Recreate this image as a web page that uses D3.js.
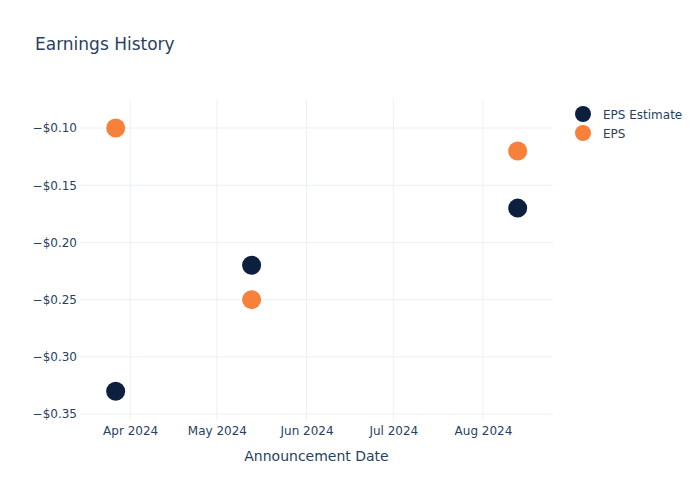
<!DOCTYPE html>
<html><head><meta charset="utf-8">
<script src="https://cdn.jsdelivr.net/npm/d3@7"></script>
<style>body{margin:0;background:#fff}svg{font-family:"DejaVu Sans",Verdana,sans-serif}</style>
</head><body><svg id="c" width="700" height="500"></svg>
<script>
const dates = ["2024-03-27","2024-05-13","2024-08-13"];
const epsEstimate = [-0.33,-0.22,-0.17];
const eps = [-0.10,-0.25,-0.12];
const yTicks = [-0.10,-0.15,-0.20,-0.25,-0.30,-0.35];
const xTicks = ["2024-04-01","2024-05-01","2024-06-01","2024-07-01","2024-08-01"];
const seriesNames = ["EPS Estimate","EPS"];
const colors = ["#0c1f3f","#f7803a"];

const svg = d3.select("#c");
const parse = d3.utcParse("%Y-%m-%d");
const m = {l:80,r:553,t:100,b:420};
const x = d3.scaleUtc().domain([new Date(Date.UTC(2024,2,14,16)), new Date(Date.UTC(2024,7,25,5))]).range([m.l,m.r]);
const y = d3.scaleLinear().domain([-0.3552,-0.0755]).range([m.b,m.t]);
const txt = "#2a3f5f", grid = "#ebf0f8";

// grid
svg.append("g").selectAll("line").data(yTicks).join("line")
  .attr("x1",m.l).attr("x2",m.r).attr("y1",d=>y(d)).attr("y2",d=>y(d))
  .attr("stroke",grid).attr("stroke-width",1);
svg.append("g").selectAll("line").data(xTicks).join("line")
  .attr("x1",d=>x(parse(d))).attr("x2",d=>x(parse(d))).attr("y1",m.t).attr("y2",m.b)
  .attr("stroke",grid).attr("stroke-width",1);

// axes
const fmt = v => (v<0?"\u2212":"")+"$"+Math.abs(v).toFixed(2);
const ya = svg.append("g").attr("transform",`translate(${m.l},0)`)
  .call(d3.axisLeft(y).tickValues(yTicks).tickFormat(fmt).tickSize(0).tickPadding(3));
ya.select(".domain").remove();
ya.selectAll("text").attr("fill",txt).attr("font-size",12).attr("font-family","DejaVu Sans");
const xa = svg.append("g").attr("transform",`translate(0,${m.b})`)
  .call(d3.axisBottom(x).tickValues(xTicks.map(parse)).tickFormat(d3.utcFormat("%b %Y")).tickSize(0).tickPadding(6));
xa.select(".domain").remove();
xa.selectAll("text").attr("fill",txt).attr("font-size",12).attr("font-family","DejaVu Sans");

// points
const series = [epsEstimate, eps];
series.forEach((vals,i)=>{
  svg.append("g").selectAll("circle").data(vals).join("circle")
    .attr("cx",(d,j)=>x(parse(dates[j]))).attr("cy",d=>y(d)).attr("r",9.5)
    .attr("fill",colors[i]);
});

// title
svg.append("text").attr("x",35).attr("y",50).attr("fill",txt).attr("font-size",17).text("Earnings History");
svg.append("text").attr("x",(m.l+m.r)/2).attr("y",461).attr("text-anchor","middle").attr("fill",txt).attr("font-size",14).text("Announcement Date");

// legend
seriesNames.forEach((n,i)=>{
  const g = svg.append("g").attr("transform",`translate(583,${114+i*19})`);
  g.append("circle").attr("r",8).attr("fill",colors[i]);
  g.append("text").attr("x",20).attr("y",4.5).attr("fill",txt).attr("font-size",12).text(n);
});
</script></body></html>
